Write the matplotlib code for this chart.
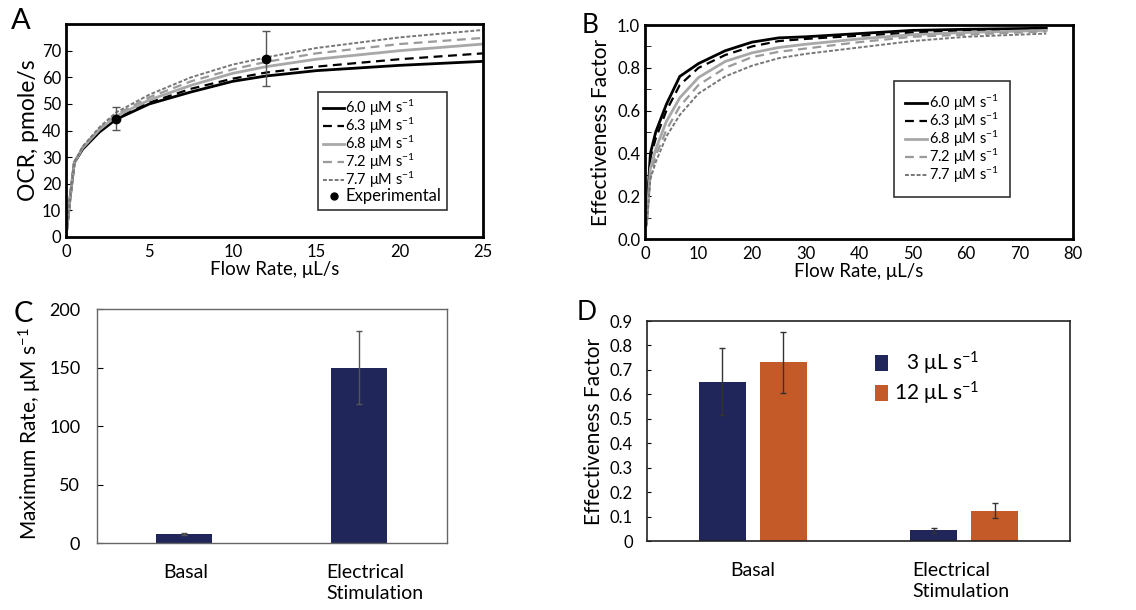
import numpy as np
import matplotlib
matplotlib.use("Agg")
import matplotlib.pyplot as plt
from matplotlib.lines import Line2D
from matplotlib.ticker import FormatStrFormatter

plt.rcParams['font.family'] = ['Lato', 'DejaVu Sans']
plt.rcParams['mathtext.fontset'] = 'custom'
plt.rcParams['mathtext.rm'] = 'Lato'
plt.rcParams['mathtext.it'] = 'Lato'

# ---- data ----
rates = ['6.0', '6.3', '6.8', '7.2', '7.7']

# panel A: OCR vs flow rate
flow_a = [0, 0.25, 0.5, 1, 2, 3, 5, 7.5, 10, 12, 15, 20, 25]
ocr_60 = [0, 15, 28, 33, 39.4, 44.2, 50.0, 54.5, 58.5, 60.5, 62.5, 64.5, 66.0]
ocr_63 = [0, 15, 28, 33.2, 39.8, 44.6, 50.5, 55.7, 59.5, 61.8, 64.0, 66.8, 69.0]
ocr_68 = [0, 15, 28, 33.5, 40.3, 45.4, 51.5, 57.0, 61.5, 64.0, 66.8, 70.0, 72.5]
ocr_72 = [0, 15, 28, 33.8, 40.7, 46.0, 52.5, 58.5, 63.0, 65.8, 69.0, 72.5, 74.8]
ocr_77 = [0, 15, 28, 34.0, 41.2, 46.8, 53.5, 60.0, 64.8, 67.5, 71.0, 75.0, 77.8]
exp_flow = [3, 12]
exp_ocr = [44.5, 67]
exp_err = [4.2, 10.3]

# panel B: effectiveness factor vs flow rate
flow_b = [0.3, 1, 2, 4, 6.5, 10, 15, 20, 25, 30, 40, 50, 60, 75]
eff_60 = [0.10, 0.40, 0.50, 0.63, 0.76, 0.82, 0.88, 0.92, 0.94, 0.945, 0.96, 0.975, 0.98, 0.985]
eff_63 = [0.10, 0.38, 0.47, 0.60, 0.72, 0.80, 0.86, 0.90, 0.925, 0.935, 0.95, 0.965, 0.975, 0.98]
eff_68 = [0.08, 0.33, 0.42, 0.55, 0.66, 0.755, 0.83, 0.87, 0.895, 0.91, 0.935, 0.955, 0.965, 0.975]
eff_72 = [0.07, 0.30, 0.39, 0.51, 0.62, 0.72, 0.80, 0.85, 0.875, 0.89, 0.92, 0.945, 0.955, 0.97]
eff_77 = [0.06, 0.28, 0.36, 0.48, 0.58, 0.68, 0.76, 0.81, 0.845, 0.865, 0.895, 0.925, 0.945, 0.96]

# panel C: maximum rate
conditions = ['Basal', 'Electrical\nStimulation']
max_rate = [7.5, 150]
max_rate_err = [1.0, 31]

# panel D: effectiveness factor by condition and flow
flow_labels = ['\u20073 μL s$^{-1}$', '12 μL s$^{-1}$']
eff_3 = [0.652, 0.045]
eff_3_err = [0.138, 0.01]
eff_12 = [0.732, 0.125]
eff_12_err = [0.125, 0.03]

navy = '#20265a'
orange = '#c45a28'
styles = [
    dict(color='black', ls='-', lw=2.0),
    dict(color='black', ls=(0, (4, 2.5)), lw=1.6),
    dict(color='#a8a8a8', ls='-', lw=2.0),
    dict(color='#9a9a9a', ls=(0, (4, 2.5)), lw=1.6),
    dict(color='#777777', ls=(0, (2, 1)), lw=1.4),
]

fig = plt.figure(figsize=(11.36, 6.10), dpi=100)

# ---- A ----
axA = fig.add_axes([0.0581, 0.6115, 0.367, 0.349])
for y, st in zip([ocr_60, ocr_63, ocr_68, ocr_72, ocr_77], styles):
    axA.plot(flow_a, y, **st)
axA.errorbar(exp_flow, exp_ocr, yerr=exp_err, fmt='o', color='black', ms=6,
             ecolor='#555555', elinewidth=1, capsize=3, capthick=1)
axA.set_xlim(0, 25)
axA.set_ylim(0, 80)
axA.set_yticks(range(0, 80, 10))
axA.set_xticks(range(0, 30, 5))
axA.tick_params(axis='y', direction='in', length=4, labelsize=12)
axA.tick_params(axis='x', length=0, labelsize=12, pad=5)
for s in axA.spines.values():
    s.set_linewidth(2)
axA.set_xlabel('Flow Rate, μL/s', fontsize=13.5, labelpad=1)
axA.set_ylabel('OCR, pmole/s', fontsize=16.5, labelpad=2)
handles = [Line2D([], [], **st) for st in styles]
handles.append(Line2D([], [], marker='o', color='black', ls='none', ms=5))
labels = [r + ' μM s$^{-1}$' for r in rates] + ['Experimental']
leg = axA.legend(handles, labels, loc='lower right', bbox_to_anchor=(0.914, 0.127),
                 fontsize=10.5, handlelength=1.4, handletextpad=0.1,
                 labelspacing=-0.15, fancybox=False, edgecolor='#333333',
                 borderpad=0.4, framealpha=1, borderaxespad=0)
leg.get_frame().set_linewidth(1.2)
leg.get_texts()[-1].set_fontsize(12)
fig.text(0.010, 0.952, 'A', fontsize=21)

# ---- B ----
axB = fig.add_axes([0.5678, 0.608, 0.3768, 0.351])
for y, st in zip([eff_60, eff_63, eff_68, eff_72, eff_77], styles):
    axB.plot(flow_b, y, **st)
axB.set_xlim(0, 80)
axB.set_ylim(0, 1.0)
axB.set_yticks(np.arange(0, 1.01, 0.2))
axB.set_yticks(np.arange(0, 1.01, 0.1), minor=True)
axB.set_xticks(range(0, 90, 10))
axB.yaxis.set_major_formatter(FormatStrFormatter('%.1f'))
axB.tick_params(axis='y', which='both', direction='in', length=4, labelsize=12)
axB.tick_params(axis='x', length=0, labelsize=12, pad=5)
for s in axB.spines.values():
    s.set_linewidth(2)
axB.set_xlabel('Flow Rate, μL/s', fontsize=13.5, labelpad=1)
axB.set_ylabel('Effectiveness Factor', fontsize=15, labelpad=4)
legB = axB.legend(handles[:5], labels[:5], loc='lower right', bbox_to_anchor=(0.853, 0.196),
                  fontsize=10.5, handlelength=1.5, handletextpad=0.1,
                  labelspacing=-0.15, fancybox=False, edgecolor='#333333',
                  borderpad=0.8, framealpha=1, borderaxespad=0)
legB.get_frame().set_linewidth(1.2)
fig.text(0.512, 0.946, 'B', fontsize=19)

# ---- C ----
axC = fig.add_axes([0.0854, 0.1098, 0.308, 0.3836])
xc = np.arange(len(conditions))
axC.bar(xc, max_rate, width=0.32, color=navy)
axC.errorbar(xc, max_rate, yerr=max_rate_err, fmt='none', ecolor='#555555',
             elinewidth=1, capsize=2.5, capthick=1)
axC.set_xlim(-0.5, 1.5)
axC.set_ylim(0, 200)
axC.set_yticks(range(0, 201, 50))
axC.set_xticks(xc)
axC.set_xticklabels([])
for x, lab, dx in zip(xc, conditions, [-0.12, -0.19]):
    axC.text(x + dx, -0.09, lab, transform=axC.get_xaxis_transform(),
             ha='left', va='top', fontsize=14, linespacing=1.3)
axC.tick_params(axis='x', length=0)
axC.tick_params(axis='y', direction='in', length=4, labelsize=13, pad=12)
for s in axC.spines.values():
    s.set_color('#666666')
    s.set_linewidth(1)
axC.set_ylabel('Maximum Rate, μM s$^{-1}$', fontsize=15, labelpad=4)
axC.yaxis.label.set_y(0.47)
fig.text(0.012, 0.472, 'C', fontsize=21)

# ---- D ----
axD = fig.add_axes([0.5695, 0.113, 0.3724, 0.3607])
xd = np.arange(len(conditions))
bw = 0.222
axD.bar(xd - 0.144, eff_3, width=bw, color=navy, label=flow_labels[0])
axD.bar(xd + 0.144, eff_12, width=bw, color=orange, label=flow_labels[1])
axD.errorbar(xd - 0.144, eff_3, yerr=eff_3_err, fmt='none', ecolor='#333333',
             elinewidth=1, capsize=2.5, capthick=1)
axD.errorbar(xd + 0.144, eff_12, yerr=eff_12_err, fmt='none', ecolor='#333333',
             elinewidth=1, capsize=2.5, capthick=1)
axD.set_xlim(-0.5, 1.5)
axD.set_ylim(0, 0.9)
axD.set_yticks(np.arange(0, 0.91, 0.1))
axD.set_yticklabels(['0'] + ['%.1f' % v for v in np.arange(0.1, 0.91, 0.1)])
axD.set_xticks(xd)
axD.set_xticklabels([])
for x, lab, dx, ha in zip(xd, conditions, [0.0, -0.246], ['center', 'left']):
    axD.text(x + dx, -0.095, lab, transform=axD.get_xaxis_transform(),
             ha=ha, va='top', fontsize=14, linespacing=1.3)
axD.tick_params(axis='x', length=0)
axD.tick_params(axis='y', direction='in', length=3, labelsize=12, pad=10)
for s in axD.spines.values():
    s.set_color('#222222')
    s.set_linewidth(1.2)
axD.set_ylabel('Effectiveness Factor', fontsize=15, labelpad=4)
axD.legend(loc='upper left', bbox_to_anchor=(0.54, 0.87), frameon=False, fontsize=15,
           handlelength=0.6, handleheight=0.8, handletextpad=0.3, labelspacing=0.15,
           borderaxespad=0, borderpad=0)
fig.text(0.508, 0.475, 'D', fontsize=19)

fig.savefig('out.png', dpi=100)
